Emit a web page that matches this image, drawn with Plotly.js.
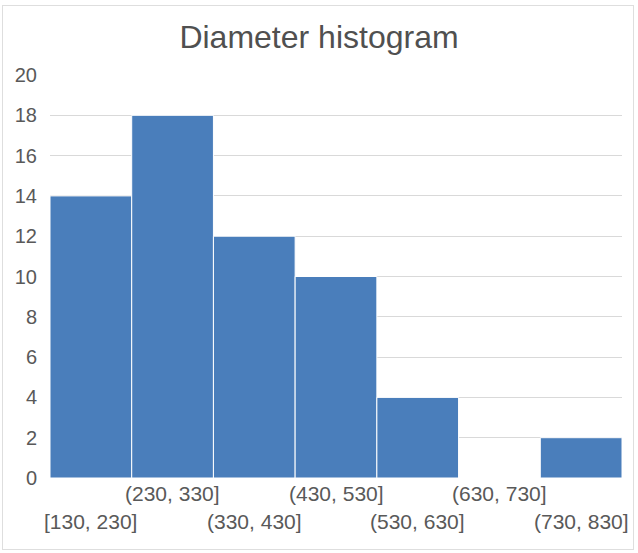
<!DOCTYPE html>
<html>
<head>
<meta charset="utf-8">
<script src="https://cdn.plot.ly/plotly-3.0.1.min.js"></script>
<style>
  html, body { margin: 0; padding: 0; background: #ffffff; }
  #frame { position: absolute; left: 2px; top: 5px; width: 630px; height: 543px; border: 1px solid #dedede; }
  #chart { position: absolute; left: 0; top: 0; width: 638px; height: 553px; }
</style>
</head>
<body>
<div id="frame"></div>
<div id="chart"></div>
<script>
// Diameter bins and the count in each bin
const bins = ["[130, 230]", "(230, 330]", "(330, 430]", "(430, 530]", "(530, 630]", "(630, 730]", "(730, 830]"];
const counts = [14, 18, 12, 10, 4, 0, 2];
const yTicks = [0, 2, 4, 6, 8, 10, 12, 14, 16, 18, 20];

const font = "Liberation Sans, Arial, sans-serif";
const textColor = "#595959";

// Bin labels alternate between two rows so they do not overlap
const binLabels = bins.map((b, i) => ({
  text: b,
  x: b,
  xref: "x",
  y: 0,
  yref: "paper",
  yanchor: "middle",
  xanchor: "center",
  yshift: i % 2 === 1 ? -15 : -43,
  showarrow: false,
  font: { family: font, size: 21, color: textColor }
}));

const trace = {
  type: "bar",
  x: bins,
  y: counts,
  marker: { color: "#4a7ebb", line: { color: "#ffffff", width: 1 } },
  hoverinfo: "x+y"
};

const layout = {
  width: 638,
  height: 553,
  paper_bgcolor: "rgba(0,0,0,0)",
  plot_bgcolor: "#ffffff",
  margin: { l: 50, r: 16, t: 75, b: 75 },
  title: {
    text: "Diameter histogram",
    font: { family: font, size: 32, color: "#505050" },
    x: 0.5,
    xanchor: "center",
    y: 0.934,
    yanchor: "middle"
  },
  bargap: 0,
  showlegend: false,
  xaxis: {
    type: "category",
    range: [-0.5, bins.length - 0.5],
    showticklabels: false,
    showgrid: false,
    zeroline: false,
    showline: false,
    ticks: ""
  },
  yaxis: {
    range: [0, 20],
    tickvals: yTicks,
    ticktext: yTicks.map(String),
    showgrid: true,
    gridcolor: "#d9d9d9",
    gridwidth: 1,
    zeroline: false,
    showline: false,
    ticks: "",
    ticklabelstandoff: 12,
    tickfont: { family: font, size: 20, color: textColor }
  },
  annotations: binLabels
};

Plotly.newPlot("chart", [trace], layout, { displayModeBar: false, staticPlot: true });
</script>
</body>
</html>
